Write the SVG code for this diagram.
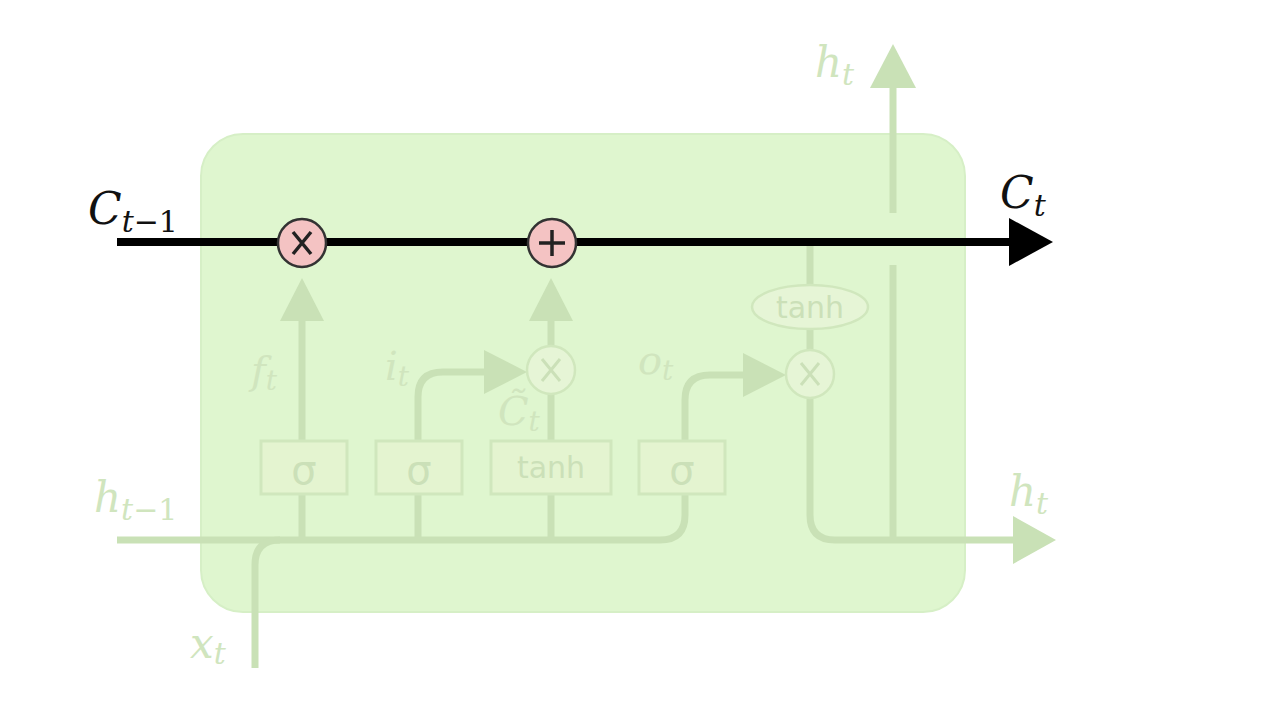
<svg xmlns="http://www.w3.org/2000/svg" width="1281" height="705" viewBox="0 0 1281 705">
<defs>
<style>
.pale{fill:none;stroke:#c9e1b6;stroke-width:7;}
.phead{fill:#c9e1b6;stroke:none;}
.box{fill:#e4f4d0;stroke:#d0e7bd;stroke-width:3;}
.btxt{font-family:"DejaVu Sans",sans-serif;fill:#cbe0b8;text-anchor:middle;}
.ptxt{font-family:"DejaVu Serif","Liberation Serif",serif;font-style:italic;fill:#d0e5be;}
.btxtk{font-family:"DejaVu Serif","Liberation Serif",serif;font-style:italic;fill:#111;}
.op{fill:#e6f5d6;stroke:#d0e7bd;stroke-width:2.5;}
.opx{stroke:#cbe0b8;stroke-width:3;fill:none;}
.pink{fill:#f4c3c3;stroke:#333;stroke-width:2.5;}
</style>
</defs>
<rect width="1281" height="705" fill="#ffffff"/>
<g id="cell">
<rect x="201" y="134" width="764" height="478" rx="42" fill="#dff6cf" stroke="#d6efc6" stroke-width="2"/>
</g>
<g id="connectors">
<path class="pale" d="M117 540 H660 Q685 540 685 515 V494"/>
<path class="pale" d="M255 668 V565 Q255 540 280 540"/>
<line class="pale" x1="302" y1="540" x2="302" y2="494"/>
<line class="pale" x1="418" y1="540" x2="418" y2="494"/>
<line class="pale" x1="551" y1="540" x2="551" y2="494"/>
<line class="pale" x1="302" y1="441" x2="302" y2="318"/>
<polygon class="phead" points="302,278 280,321 324,321"/>
<path class="pale" d="M418 441 V397 Q418 372 443 372 H492"/>
<polygon class="phead" points="527,372 484,350 484,394"/>
<line class="pale" x1="551" y1="441" x2="551" y2="394"/>
<line class="pale" x1="551" y1="346" x2="551" y2="318"/>
<polygon class="phead" points="551,278 529,321 573,321"/>
<path class="pale" d="M685 441 V400 Q685 375 710 375 H750"/>
<polygon class="phead" points="786,375 743,353 743,397"/>
<line class="pale" x1="810" y1="350" x2="810" y2="329"/>
<line class="pale" x1="810" y1="285" x2="810" y2="246"/>
<path class="pale" d="M810 398 V515 Q810 540 835 540 H1020"/>
<polygon class="phead" points="1056,540 1013,516 1013,564"/>
<line class="pale" x1="893" y1="540" x2="893" y2="265"/>
<line class="pale" x1="893" y1="213" x2="893" y2="82"/>
<polygon class="phead" points="893,44 870,88 916,88"/>
<line x1="117" y1="242" x2="1015" y2="242" stroke="#000" stroke-width="8"/>
<polygon points="1053,242 1009,218 1009,266" fill="#000"/>
</g>
<g id="sigma_f"><rect class="box" x="261" y="441" width="86" height="53"/><text class="btxt" x="304" y="484" font-size="40">σ</text></g>
<g id="sigma_i"><rect class="box" x="376" y="441" width="86" height="53"/><text class="btxt" x="419" y="484" font-size="40">σ</text></g>
<g id="tanh_c"><rect class="box" x="491" y="441" width="120" height="53"/><text class="btxt" x="551" y="478" font-size="30">tanh</text></g>
<g id="sigma_o"><rect class="box" x="639" y="441" width="86" height="53"/><text class="btxt" x="682" y="484" font-size="40">σ</text></g>
<g id="mul_i"><circle class="op" cx="551" cy="370" r="24"/><path class="opx" d="M542 359 L560 381 M560 359 L542 381"/></g>
<g id="mul_o"><circle class="op" cx="810" cy="374" r="24"/><path class="opx" d="M801 363 L819 385 M819 363 L801 385"/></g>
<g id="tanh_o"><ellipse class="op" cx="810" cy="307" rx="58" ry="22"/><text class="btxt" x="810" y="318" font-size="30">tanh</text></g>
<g id="mul_f"><circle class="pink" cx="302" cy="243" r="24"/><path d="M293 232 L311 254 M311 232 L293 254" stroke="#222" stroke-width="3.5" fill="none"/></g>
<g id="add"><circle class="pink" cx="552" cy="243" r="24"/><path d="M552 230 V256 M539 243 H565" stroke="#222" stroke-width="3.5" fill="none"/></g>
<g id="labels">
<text class="btxtk" x="88" y="224" font-size="44">C<tspan font-size="30" dy="8">t</tspan><tspan font-size="30" font-style="normal">−1</tspan></text>
<text class="btxtk" x="1000" y="208" font-size="44">C<tspan font-size="30" dy="8">t</tspan></text>
<text class="ptxt" x="815" y="77" font-size="42">h<tspan font-size="30" dy="8">t</tspan></text>
<text class="ptxt" x="1009" y="506" font-size="42">h<tspan font-size="30" dy="8">t</tspan></text>
<text class="ptxt" x="94" y="512" font-size="42">h<tspan font-size="30" dy="8">t</tspan><tspan font-size="30" font-style="normal">−1</tspan></text>
<text class="ptxt" x="190" y="658" font-size="42">x<tspan font-size="30" dy="6">t</tspan></text>
<text class="ptxt" x="251" y="384" font-size="40">f<tspan font-size="28" dy="6">t</tspan></text>
<text class="ptxt" x="385" y="380" font-size="40">i<tspan font-size="28" dy="6">t</tspan></text>
<text class="ptxt" x="638" y="374" font-size="40">o<tspan font-size="28" dy="6">t</tspan></text>
<text class="ptxt" x="498" y="425" font-size="40">C̃<tspan font-size="28" dy="6">t</tspan></text>
</g>
</svg>
